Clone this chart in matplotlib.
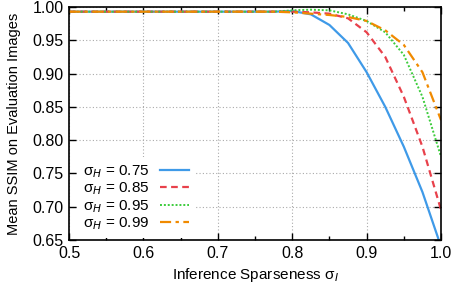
import matplotlib
matplotlib.use("Agg")
import matplotlib.pyplot as plt
from matplotlib.ticker import MultipleLocator

plt.rcParams['font.family'] = ['Liberation Sans', 'DejaVu Sans']

# inference sparseness values
sparseness = [0.5, 0.525, 0.55, 0.575, 0.6, 0.625, 0.65, 0.675, 0.7, 0.725, 0.75, 0.775,
              0.8, 0.825, 0.85, 0.875, 0.9, 0.925, 0.95, 0.975, 1.0]
flat = [0.993] * 12

ssim_075 = flat + [0.994, 0.989, 0.973, 0.946, 0.902, 0.850, 0.790, 0.722, 0.640]
ssim_085 = flat + [0.993, 0.992, 0.990, 0.983, 0.962, 0.925, 0.865, 0.790, 0.695]
ssim_095 = flat + [0.995, 0.996, 0.995, 0.989, 0.979, 0.962, 0.928, 0.865, 0.775]
ssim_099 = flat + [0.992, 0.990, 0.988, 0.985, 0.979, 0.965, 0.943, 0.902, 0.830]

labels = ["σ$_H$ = 0.75", "σ$_H$ = 0.85", "σ$_H$ = 0.95", "σ$_H$ = 0.99"]

fig = plt.figure(figsize=(4.58, 2.85), dpi=100)
ax = fig.add_axes([0.1507, 0.158, 0.8123, 0.8174])

ax.plot(sparseness, ssim_075, color='#3f9ae8', lw=1.6, label=labels[0])
ax.plot(sparseness, ssim_085, color='#e8414b', lw=1.6, dashes=(3, 2), label=labels[1])
ax.plot(sparseness, ssim_095, color='#3ccc3c', lw=1.4, dashes=(1, 1), label=labels[2])
ax.plot(sparseness, ssim_099, color='#f08a00', lw=1.6, dashes=(5, 2, 1.5, 2), label=labels[3])

ax.set_xlim(0.5, 1.0)
ax.set_ylim(0.65, 1.0)
ax.xaxis.set_major_locator(MultipleLocator(0.1))
ax.xaxis.set_minor_locator(MultipleLocator(0.05))
ax.yaxis.set_major_locator(MultipleLocator(0.05))
ax.xaxis.set_major_formatter(plt.FuncFormatter(lambda v, p: "%.1f" % v))
ax.yaxis.set_major_formatter(plt.FuncFormatter(lambda v, p: "%.2f" % v))
ax.tick_params(which='both', direction='in', top=True, right=True, labelsize=11.5)
ax.tick_params(which='major', length=5, width=1, pad=4)
ax.tick_params(which='minor', length=3, width=1)
ax.grid(True, which='major', color='#aaaaaa', ls=(0, (1, 2)), lw=0.8)
for s in ax.spines.values():
    s.set_linewidth(1.2)

ax.set_xlabel("Inference Sparseness σ$_I$", fontsize=11, labelpad=4)
ax.set_ylabel("Mean SSIM on Evaluation Images", fontsize=10.5, labelpad=8)

leg = ax.legend(loc='lower left', bbox_to_anchor=(0.0, -0.026), markerfirst=False,
                frameon=True, fancybox=False, edgecolor='none', framealpha=1,
                fontsize=11, handlelength=1.9, handletextpad=0.7,
                labelspacing=0.05, borderpad=0.4)

fig.savefig("out.png", dpi=100)
